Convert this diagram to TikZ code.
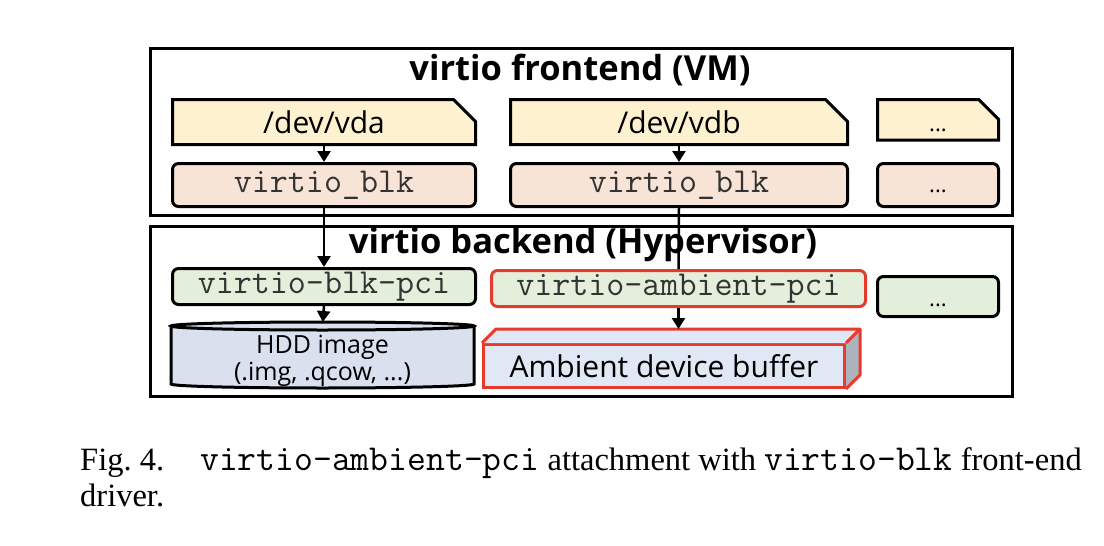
\documentclass[tikz,border=0pt]{standalone}
\usepackage{fontspec}
\setmainfont{Liberation Serif}
\newfontfamily\diag{Open Sans}
\usetikzlibrary{arrows.meta,shapes.misc,calc}
\definecolor{devyellow}{HTML}{FDF1CF}
\definecolor{blkpeach}{HTML}{F8E4D6}
\definecolor{pcigreen}{HTML}{E3EFDA}
\definecolor{hddblue}{HTML}{D9E0EE}
\definecolor{buffront}{HTML}{DFE8F4}
\definecolor{bufside}{HTML}{ADB3BC}
\definecolor{ambred}{HTML}{E83A2C}
\definecolor{monogray}{HTML}{333333}
\begin{document}
\begin{tikzpicture}[x=1pt,y=-1pt,
  outerbox/.style={draw=black,line width=3pt},
  devbox/.style={chamfered rectangle,chamfered rectangle corners=north east,
     chamfered rectangle xsep=11pt,chamfered rectangle ysep=11pt,
     draw=black,line width=3pt,fill=devyellow,inner sep=0pt,
     font=\diag\fontsize{30}{32}\selectfont},
  blkbox/.style={rectangle,rounded corners=6pt,draw=black,line width=3pt,
     fill=blkpeach,inner sep=0pt,font=\ttfamily\fontsize{35}{38}\selectfont,
     text=monogray},
  pcibox/.style={blkbox,fill=pcigreen},
  redbox/.style={pcibox,draw=ambred},
  dots/.style={font=\diag\fontsize{22}{24}\selectfont,text=black},
  title/.style={font=\diag\bfseries\fontsize{34.5}{36}\selectfont},
  arr/.style={line width=2.5pt,-{Triangle[length=11pt,width=13pt]}},
  line/.style={line width=2.5pt},
  capt/.style={font=\fontsize{32.5}{34}\selectfont,inner sep=0pt}
]
\useasboundingbox (0,0) rectangle (1104,546);

% outer boxes
\node[outerbox,minimum width=862pt,minimum height=167pt,anchor=north west,inner sep=0pt] (front) at (149,47) {};
\node[outerbox,minimum width=862pt,minimum height=170pt,anchor=north west,inner sep=0pt] (back) at (149,225) {};

% frontend
\node[devbox,minimum width=303pt,minimum height=39pt,anchor=north west] (vda) at (171,98) {/dev/vda};
\node[devbox,minimum width=337pt,minimum height=39pt,anchor=north west] (vdb) at (509,98) {/dev/vdb};
\node[devbox,dots,minimum width=121pt,minimum height=39pt,anchor=north west] (vdx) at (876,98) {\vphantom{\diag\fontsize{30}{32}\selectfont /dev/vda}...};

\node[blkbox,minimum width=303pt,minimum height=43pt,anchor=north west] (blka) at (171,162) {virtio\_blk};
\node[blkbox,minimum width=337pt,minimum height=43pt,anchor=north west] (blkb) at (509,162) {virtio\_blk};
\node[blkbox,dots,minimum width=121pt,minimum height=43pt,anchor=north west] (blkx) at (876,162) {\vphantom{\ttfamily\fontsize{35}{38}\selectfont virtio\_blk}...};

% backend
\node[pcibox,minimum width=303pt,minimum height=36pt,anchor=north west] (pcia) at (171,267) {virtio-blk-pci};
\node[redbox,minimum width=374pt,minimum height=36pt,anchor=north west] (pcib) at (490,269) {virtio-ambient-pci};
\node[pcibox,dots,minimum width=121pt,minimum height=40pt,anchor=north west] (pcix) at (876,275) {\vphantom{\ttfamily\fontsize{35}{38}\selectfont virtio}...};

% connector frontend -> ambient pci (passes behind the title)
\draw[line] (blkb.south) -- (pcib.north);

% titles
\node[title] (ftitle) at (580,70) {virtio frontend (VM)};
\node[title] (btitle) at (583,245) {virtio backend (Hypervisor)};

% HDD cylinder
\node[minimum width=303pt,minimum height=66pt,anchor=north west,inner sep=0pt] (hdd) at (171,322) {};
\fill[hddblue] (171,326) -- (171,384) arc[start angle=180,end angle=360,x radius=151.5pt,y radius=4pt]
  -- (474,326) arc[start angle=0,end angle=180,x radius=151.5pt,y radius=4pt] -- cycle;
\draw[line width=3pt] (171,326) -- (171,384) arc[start angle=180,end angle=360,x radius=151.5pt,y radius=4pt] -- (474,326);
\draw[line width=3pt] (322.5,326) ellipse[x radius=151.5pt,y radius=4pt];
\node[font=\diag\fontsize{25}{27}\selectfont,align=center] (hddtext) at (322.5,361) {HDD image\\(.img, .qcow, ...)};

% Ambient device buffer (3D box)
\node[draw=ambred,line width=3pt,fill=buffront,minimum width=361pt,minimum height=43pt,
      anchor=north west,inner sep=0pt,font=\diag\fontsize{30}{32}\selectfont] (buf) at (482,343) {Ambient device buffer};
\coordinate (buftop) at ($(buf.north)+(7,-14)$);
\fill[buffront] (buf.north west) -- ++(14,-14) -- ($(buf.north east)+(14,-14)$) -- (buf.north east) -- cycle;
\fill[bufside] (buf.north east) -- ++(14,-14) -- ($(buf.south east)+(14,-14)$) -- (buf.south east) -- cycle;
\draw[ambred,line width=3pt,line join=round] (buf.north west) -- ++(14,-14) -- ($(buf.north east)+(14,-14)$)
   -- ($(buf.south east)+(14,-14)$) -- (buf.south east);
\draw[ambred,line width=3pt] (buf.north east) -- ++(14,-14);

% arrows
\draw[arr] (vda.south) -- (blka.north);
\draw[arr] (vdb.south) -- (blkb.north);
\draw[arr] (blka.south) -- (pcia.north);
\draw[arr] (pcia.south) -- (hdd.north);
\draw[arr] (pcib.south) -- (pcib.south |- buftop);

% caption
\node[capt,anchor=base west] (figno) at (80,470) {Fig.~4.};
\node[capt,anchor=base west] (captxt) at (200,470) {{\ttfamily\fontsize{36.6}{38}\selectfont virtio-ambient-pci} attachment with {\ttfamily\fontsize{36.6}{38}\selectfont virtio-blk} front-end};
\node[capt,anchor=base west] (capt2) at (80,506) {driver.};
\end{tikzpicture}
\end{document}
